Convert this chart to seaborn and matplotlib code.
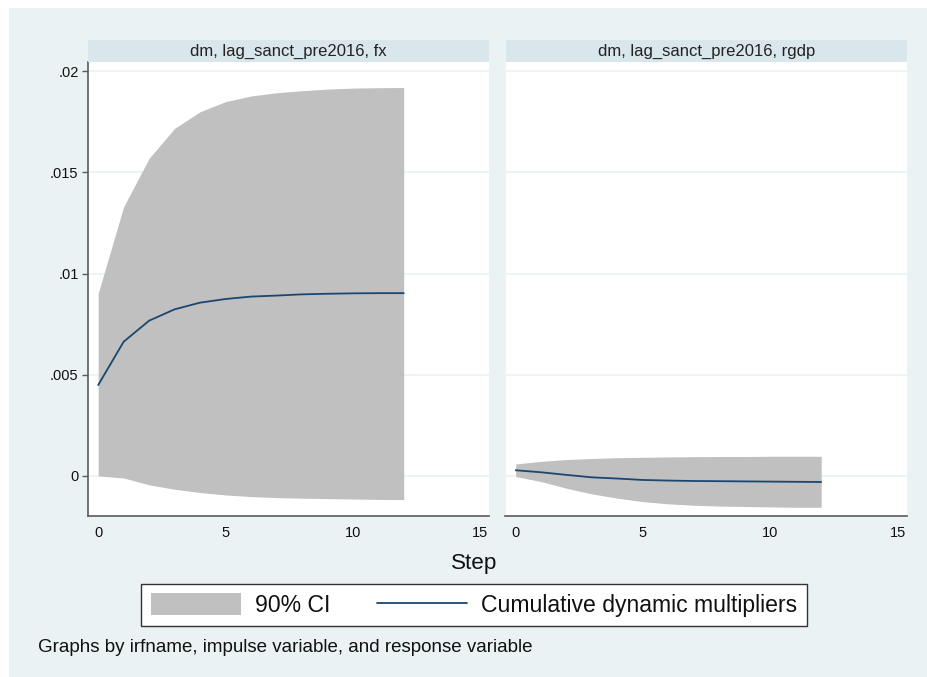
import numpy as np
import pandas as pd
import matplotlib
matplotlib.use("Agg")
import matplotlib.pyplot as plt
import seaborn as sns
from matplotlib.patches import Patch, Rectangle
from matplotlib.lines import Line2D

# ---- data ----
steps = list(range(13))
titles = ["dm, lag_sanct_pre2016, fx", "dm, lag_sanct_pre2016, rgdp"]

fx_cdm = [0.00449, 0.00663, 0.00767, 0.00823, 0.00856, 0.00874, 0.00886,
          0.00891, 0.00897, 0.00900, 0.00902, 0.00903, 0.00903]
fx_upper = [0.00902, 0.01330, 0.01569, 0.01717, 0.01799, 0.01849, 0.01877,
            0.01893, 0.01903, 0.01911, 0.01916, 0.01918, 0.01919]
fx_lower = [0.00000, -0.00010, -0.00044, -0.00066, -0.00082, -0.00094, -0.00102,
            -0.00107, -0.00110, -0.00112, -0.00114, -0.00116, -0.00117]

rgdp_cdm = [0.00028, 0.00018, 0.00005, -0.00007, -0.00013, -0.00020, -0.00023,
            -0.00025, -0.00026, -0.00027, -0.00028, -0.00029, -0.00030]
rgdp_upper = [0.00059, 0.00072, 0.00081, 0.00086, 0.00090, 0.00092, 0.00094,
              0.00095, 0.00096, 0.00096, 0.00097, 0.00097, 0.00097]
rgdp_lower = [-0.00003, -0.00028, -0.00061, -0.00089, -0.00110, -0.00127, -0.00138,
              -0.00145, -0.00149, -0.00151, -0.00153, -0.00155, -0.00155]

yticks = [0, 0.005, 0.01, 0.015, 0.02]
yticklabels = ["0", ".005", ".01", ".015", ".02"]
xticks = [0, 5, 10, 15]
xticklabels = ["0", "5", "10", "15"]

panels = [
    pd.DataFrame({"step": steps, "cdm": fx_cdm, "lo": fx_lower, "hi": fx_upper}),
    pd.DataFrame({"step": steps, "cdm": rgdp_cdm, "lo": rgdp_lower, "hi": rgdp_upper}),
]

# ---- style ----
sns.set_theme(style="white")
plt.rcParams["font.family"] = ["Liberation Sans", "DejaVu Sans"]

BG = "#EAF2F3"
STRIP = "#D9E6EB"
GRID = "#EAF2F3"
FILL = "#C0C0C0"
LINE = "#1A476F"
AXC = "#5A5A5A"
TXT = "#111111"

W, H = 927, 677
fig = plt.figure(figsize=(W / 100, H / 100), dpi=100)
fig.patch.set_facecolor("white")
fig.add_artist(Rectangle((9 / W, 0), 1 - 9 / W, 1 - 8 / H, transform=fig.transFigure,
                         facecolor=BG, edgecolor="none", zorder=-10))

def fx(px):
    return px / W

def fy(py):
    return 1 - py / H

ax_left = [88, 505.5]
ax_w = 401.5
top, bottom = 62, 516
strip_top = 40

for i, (df, title) in enumerate(zip(panels, titles)):
    x0 = ax_left[i]
    ax = fig.add_axes([fx(x0), fy(bottom), ax_w / W, (bottom - top) / H])
    ax.set_facecolor("white")
    ax.fill_between(df["step"], df["lo"], df["hi"], color=FILL, linewidth=0, zorder=2)
    sns.lineplot(data=df, x="step", y="cdm", ax=ax, color=LINE, linewidth=1.3, zorder=3)
    ax.set_xlim(-0.4, 15.37)
    ax.set_ylim(-0.00198, 0.02045)
    ax.set_yticks(yticks)
    ax.set_xticks(xticks)
    ax.set_xticklabels(xticklabels, fontsize=10.5)
    for y in yticks:
        ax.axhline(y, color=GRID, linewidth=1.2, zorder=1)
    ax.set_xlabel("")
    ax.set_ylabel("")
    for s in ["top", "right"]:
        ax.spines[s].set_visible(False)
    ax.spines["bottom"].set_color(AXC)
    ax.spines["bottom"].set_linewidth(1.2)
    ax.tick_params(axis="x", direction="out", length=4.3, width=1, color=AXC, pad=3, labelcolor=TXT)
    if i == 0:
        ax.set_yticklabels(yticklabels, fontsize=10.5)
        ax.spines["left"].set_color(AXC)
        ax.spines["left"].set_linewidth(1.2)
        ax.tick_params(axis="y", direction="out", length=4.3, width=1, color=AXC, pad=2.5, labelcolor=TXT, left=True)
    else:
        ax.spines["left"].set_visible(False)
        ax.tick_params(axis="y", left=False, labelleft=False)
    # strip
    sax = fig.add_axes([fx(x0), fy(top), ax_w / W, (top - strip_top) / H])
    sax.set_facecolor(STRIP)
    sax.set_xticks([])
    sax.set_yticks([])
    for s in sax.spines.values():
        s.set_visible(False)
    sax.text(0.5, 0.5, title, ha="center", va="center", fontsize=12, color="#222222",
             transform=sax.transAxes)

fig.text(fx(474), fy(563), "Step", ha="center", va="center", fontsize=16.2, color=TXT)

handles = [Patch(facecolor=FILL, edgecolor="none"),
           Line2D([0], [0], color=LINE, linewidth=1.3)]
leg = fig.legend(handles, ["90% CI", "Cumulative dynamic multipliers"],
                 loc="center", bbox_to_anchor=(fx(474), fy(605)), ncol=2,
                 fontsize=16.6, frameon=True, fancybox=False, edgecolor="#333333",
                 facecolor="white", framealpha=1, handlelength=3.9, handleheight=1.05,
                 handletextpad=0.62, columnspacing=2.0, borderpad=0.42)
leg.get_frame().set_linewidth(1.0)
for t in leg.get_texts():
    t.set_color(TXT)

fig.text(fx(38), fy(648), "Graphs by irfname, impulse variable, and response variable",
         ha="left", va="center", fontsize=13.5, color=TXT)

fig.savefig("out.png", dpi=100, facecolor=fig.get_facecolor())
